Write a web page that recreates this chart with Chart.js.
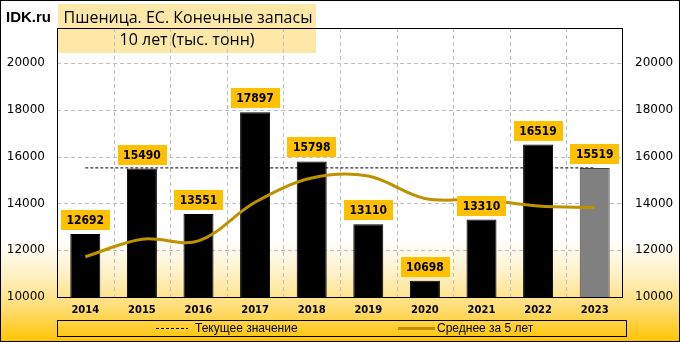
<!DOCTYPE html>
<html>
<head>
<meta charset="utf-8">
<script src="https://cdn.jsdelivr.net/npm/chart.js@4/dist/chart.umd.min.js"></script>
<style>
  html, body { margin: 0; padding: 0; background: #fff; }
  #wrap { width: 680px; height: 342px; }
</style>
</head>
<body>
<div id="wrap"><canvas id="stocks" width="680" height="342"></canvas></div>
<script>
// ===== DATA =====
const years = ["2014", "2015", "2016", "2017", "2018", "2019", "2020", "2021", "2022", "2023"];
const stocks = [12692, 15490, 13551, 17897, 15798, 13110, 10698, 13310, 16519, 15519];
const avg5 = [11720, 12470, 12400, 14050, 15086, 15169, 14211, 14163, 13887, 13831];
const current = [15519, 15519, 15519, 15519, 15519, 15519, 15519, 15519, 15519, 15519];
const yTicks = [10000, 12000, 14000, 16000, 18000, 20000];

const titleLine1 = "Пшеница. ЕС. Конечные запасы";
const titleLine2 = "10 лет (тыс. тонн)";
const legendCurrent = "Текущее значение";
const legendAvg = "Среднее за 5 лет";

const GOLD = "#BF9000";
const barColors = stocks.map((v, i) => i === stocks.length - 1 ? "#808080" : "#000000");
const barBorders = stocks.map((v, i) => i === stocks.length - 1 ? "#404040" : "#000000");

// background, title boxes, dashed grid, frame, labels, legend
const decor = {
    id: "decor",
    beforeDraw(chart) {
        const c = chart.ctx;
        c.save();
        const g = c.createLinearGradient(0, 0, 0, chart.height);
        g.addColorStop(0, "#ffffff");
        g.addColorStop(0.70, "#ffffff");
        g.addColorStop(0.80, "#FFF1C6");
        g.addColorStop(0.90, "#FFDD74");
        g.addColorStop(1, "#FFC400");
        c.fillStyle = g;
        c.fillRect(0, 0, chart.width, chart.height);

        // title cells
        c.fillStyle = "#FDE8A8";
        c.fillRect(58, 4, 258, 49);
        c.restore();
    },
    beforeDatasetsDraw(chart) {
        const c = chart.ctx;
        const a = chart.chartArea;
        const xs = chart.scales.x;
        const ys = chart.scales.y;
        c.save();
        c.strokeStyle = "#BFBFBF";
        c.lineWidth = 1;
        c.setLineDash([4, 3]);
        c.beginPath();
        for (let i = 0; i < years.length - 1; i++) {
            const x = Math.round((xs.getPixelForValue(i) + xs.getPixelForValue(i + 1)) / 2) + 0.5;
            c.moveTo(x, a.top);
            c.lineTo(x, a.bottom);
        }
        yTicks.forEach(v => {
            if (v === yTicks[0]) return;
            const y = Math.round(ys.getPixelForValue(v)) + 0.5;
            c.moveTo(a.left, y);
            c.lineTo(a.right, y);
        });
        c.stroke();
        c.restore();
    },
    afterDraw(chart) {
        const c = chart.ctx;
        const a = chart.chartArea;
        c.save();
        // plot frame
        c.strokeStyle = "#000";
        c.lineWidth = 1;
        c.strokeRect(Math.round(a.left) + 0.5, Math.round(a.top) + 0.5,
            Math.round(a.right - a.left) - 1, Math.round(a.bottom - a.top));

        // value labels
        const meta = chart.getDatasetMeta(1);
        c.font = "bold 12px 'DejaVu Sans Condensed', 'DejaVu Sans'";
        c.textAlign = "center";
        c.textBaseline = "middle";
        meta.data.forEach((el, i) => {
            const txt = String(stocks[i]);
            const w = c.measureText(txt).width + 11;
            const h = 20;
            const bx = Math.round(el.x - w / 2);
            const by = Math.round(el.y - 4 - h);
            c.fillStyle = "#FFC000";
            c.fillRect(bx, by, Math.round(w), h);
            c.fillStyle = "#000";
            c.fillText(txt, el.x, by + h / 2 + 1);
        });

        // titles
        c.fillStyle = "#000";
        c.textBaseline = "alphabetic";
        c.textAlign = "left";
        c.font = "bold 15px 'Liberation Sans'";
        c.fillText("IDK.ru", 6, 22);
        c.textAlign = "center";
        c.font = "16px 'Open Sans'";
        c.fillText(titleLine1, 188, 23);
        c.fillText(titleLine2, 187, 45);

        // legend
        c.strokeStyle = "#000";
        c.lineWidth = 1;
        c.strokeRect(57.5, 320.5, 569, 16);
        c.beginPath();
        c.setLineDash([3, 2]);
        c.moveTo(156, 328.5);
        c.lineTo(188, 328.5);
        c.stroke();
        c.setLineDash([]);
        c.beginPath();
        c.strokeStyle = GOLD;
        c.lineWidth = 3;
        c.moveTo(398, 328.5);
        c.lineTo(435, 328.5);
        c.stroke();
        c.fillStyle = "#000";
        c.textAlign = "left";
        c.textBaseline = "middle";
        c.font = "12px 'Liberation Sans'";
        c.fillText(legendCurrent, 195, 329);
        c.fillText(legendAvg, 437, 329);

        // outer border
        c.lineWidth = 1;
        c.strokeStyle = "#000";
        c.strokeRect(0.5, 0.5, chart.width - 1, chart.height - 1);
        c.restore();
    }
};

const keepTicks = function (scale) {
    scale.ticks = yTicks.map(v => ({ value: v }));
};

const tickFont = { family: "DejaVu Sans", size: 12 };
const hiddenGrid = { display: true, drawTicks: false, color: "rgba(0,0,0,0)" };

new Chart(document.getElementById("stocks").getContext("2d"), {
    data: {
        labels: years,
        datasets: [
            {
                type: "line",
                label: legendCurrent,
                data: current,
                borderColor: "#000",
                borderWidth: 1,
                borderDash: [3, 2],
                pointRadius: 0,
                fill: false,
                order: 3,
                yAxisID: "y"
            },
            {
                type: "bar",
                label: "stocks",
                data: stocks,
                backgroundColor: barColors,
                borderColor: barBorders,
                borderWidth: 1,
                categoryPercentage: 1,
                barPercentage: 0.53,
                order: 2,
                yAxisID: "y"
            },
            {
                type: "line",
                label: legendAvg,
                data: avg5,
                borderColor: GOLD,
                borderWidth: 3,
                tension: 0.35,
                pointRadius: 0,
                fill: false,
                order: 1,
                yAxisID: "y"
            }
        ]
    },
    options: {
        responsive: false,
        animation: false,
        events: [],
        layout: { padding: { top: 28, bottom: 23, left: 0, right: 0 } },
        plugins: {
            legend: { display: false },
            tooltip: { enabled: false }
        },
        scales: {
            x: {
                offset: true,
                grid: Object.assign({ offset: true }, hiddenGrid),
                border: { display: false },
                ticks: {
                    color: "#000",
                    padding: 7,
                    font: { family: "DejaVu Sans", size: 10, weight: "bold" }
                },
                afterFit(scale) { scale.height = 22; }
            },
            y: {
                position: "left",
                min: 10000,
                max: 21500,
                afterBuildTicks: keepTicks,
                grid: hiddenGrid,
                border: { display: false },
                ticks: {
                    color: "#000",
                    padding: 12,
                    font: tickFont,
                    callback: v => String(v)
                },
                afterFit(scale) { scale.width = 57; }
            },
            y2: {
                position: "right",
                min: 10000,
                max: 21500,
                afterBuildTicks: keepTicks,
                grid: { display: false, drawTicks: false },
                border: { display: false },
                ticks: {
                    color: "#000",
                    padding: 12,
                    font: tickFont,
                    callback: v => String(v)
                },
                afterFit(scale) { scale.width = 57; }
            }
        }
    },
    plugins: [decor]
});
</script>
</body>
</html>
